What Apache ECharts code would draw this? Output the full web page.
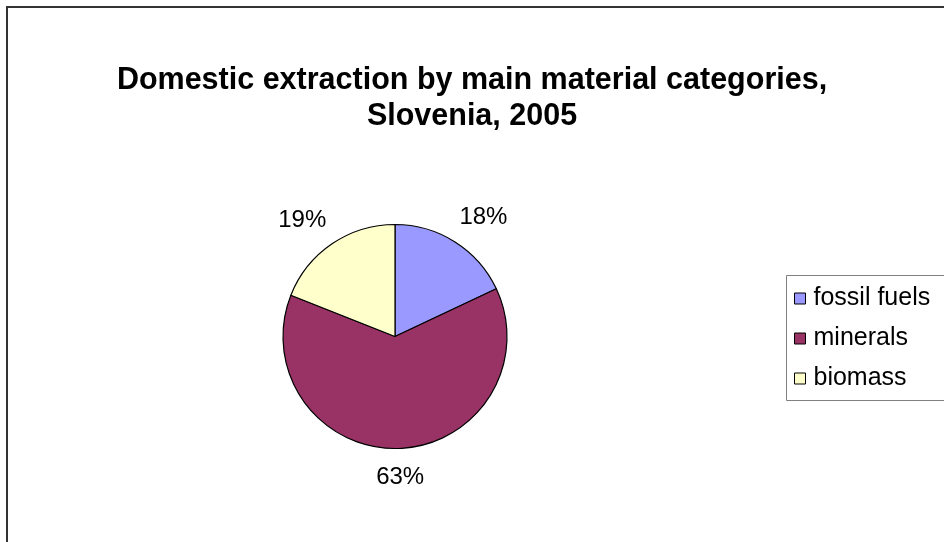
<!DOCTYPE html>
<html>
<head>
<meta charset="utf-8">
<script src="https://cdn.jsdelivr.net/npm/echarts@6/dist/echarts.min.js"></script>
<style>
html,body{margin:0;padding:0;background:#fff;}
#chart{width:944px;height:542px;}
</style>
</head>
<body>
<div id="chart"></div>
<script>
// ---- data ----
const categories = ['fossil fuels', 'minerals', 'biomass'];
const shares = [18, 63, 19];
const colors = ['#9999FF', '#993366', '#FFFFCC'];
const titleText = 'Domestic extraction by main material categories,\nSlovenia, 2005';

// ---- layout (style only) ----
const FONT = '"Liberation Sans", Arial, sans-serif';
const CX = 395, CY = 336.5, R = 112;
const LABEL_A = 53, LABEL_B = 29;

const total = shares.reduce((a, b) => a + b, 0);
function midAngle(i) {
  let before = 0;
  for (let k = 0; k < i; k++) before += shares[k];
  const frac = (before + shares[i] / 2) / total;
  return frac * 2 * Math.PI; // clockwise from top
}

const chart = echarts.init(document.getElementById('chart'), null, {renderer: 'canvas'});
chart.setOption({
  animation: false,
  backgroundColor: '#ffffff',
  title: {
    text: titleText,
    left: 'center',
    top: 63,
    padding: 0,
    textStyle: {
      fontFamily: FONT,
      fontWeight: 'bold',
      fontSize: 30.5,
      lineHeight: 36,
      color: '#000'
    }
  },
  legend: {
    orient: 'vertical',
    left: 794,
    top: 286,
    itemGap: 15,
    itemWidth: 11,
    itemHeight: 11,
    icon: 'rect',
    padding: 0,
    textStyle: {fontFamily: FONT, fontSize: 25, color: '#000', padding: [0, 0, 0, 3]},
    itemStyle: {borderColor: '#000', borderWidth: 1},
    data: categories
  },
  graphic: [
    {
      type: 'rect',
      shape: {x: 7, y: 7, width: 1100, height: 1100},
      style: {fill: 'none', stroke: '#333', lineWidth: 2},
      silent: true
    },
    {
      type: 'rect',
      shape: {x: 786.5, y: 275.5, width: 300, height: 125},
      style: {fill: 'none', stroke: '#808080', lineWidth: 1},
      silent: true
    }
  ],
  series: [{
    type: 'pie',
    center: [CX, CY],
    radius: R,
    startAngle: 90,
    clockwise: true,
    avoidLabelOverlap: false,
    itemStyle: {borderColor: '#000', borderWidth: 1.2},
    label: {
      show: true,
      position: 'outside',
      formatter: '{d}%',
      fontFamily: FONT,
      fontSize: 24,
      color: '#000'
    },
    labelLine: {show: false},
    labelLayout: function (p) {
      const a = midAngle(p.dataIndex);
      return {
        x: CX + Math.sin(a) * (R + LABEL_A),
        y: CY - Math.cos(a) * (R + LABEL_B),
        align: 'center',
        verticalAlign: 'middle'
      };
    },
    data: categories.map((c, i) => ({name: c, value: shares[i], itemStyle: {color: colors[i]}}))
  }]
});
</script>
</body>
</html>
